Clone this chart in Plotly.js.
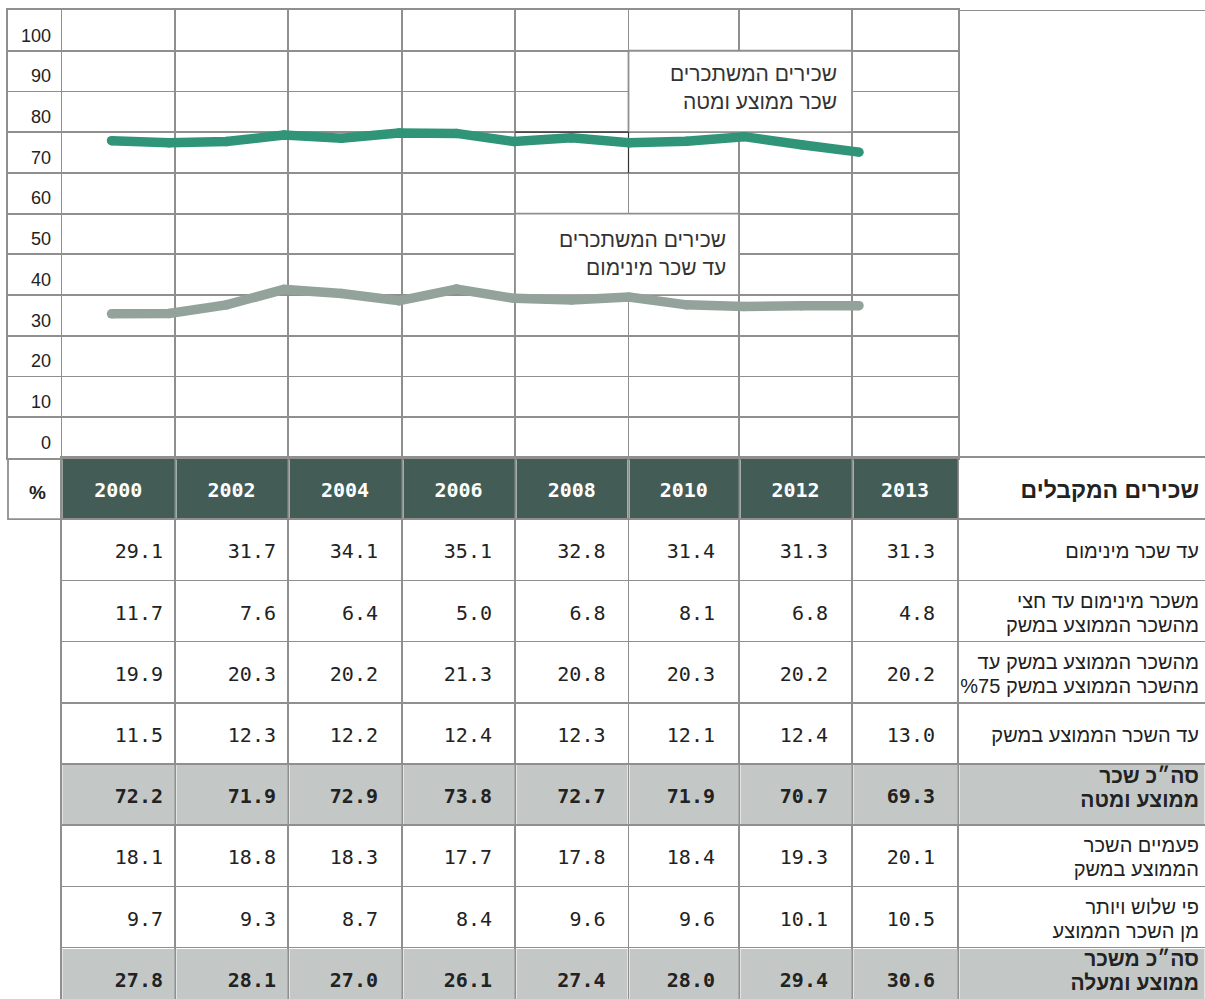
<!DOCTYPE html>
<html><head><meta charset="utf-8">
<script src="https://cdn.plot.ly/plotly-3.0.1.min.js"></script>
<style>html,body{margin:0;padding:0;background:#fff}#chart{width:1205px;height:999px}</style>
</head><body><div id="chart"></div>
<script>
// ---------------- data ----------------
const lineYears = [2000,2001,2002,2003,2004,2005,2006,2007,2008,2009,2010,2011,2012,2013];
const avgAndBelowLine = [77.9,77.4,77.7,79.3,78.5,79.8,79.7,77.7,78.6,77.4,77.8,78.9,76.9,75.1];
const upToMinWageLine = [35.4,35.5,37.6,41.4,40.4,38.6,41.5,39.2,38.8,39.5,37.6,37.2,37.4,37.4];
const yTickValues = [0,10,20,30,40,50,60,70,80,90,100];
const unitLabel = '%';
const tableYears = ['2000','2002','2004','2006','2008','2010','2012','2013'];
const tableTitle = 'שכירים המקבלים';
const greenSeriesLabel = ['שכירים המשתכרים','שכר ממוצע ומטה'];
const graySeriesLabel = ['שכירים המשתכרים','עד שכר מינימום'];

const upToMinWage      = [29.1,31.7,34.1,35.1,32.8,31.4,31.3,31.3];
const minToHalfAvg     = [11.7,7.6,6.4,5.0,6.8,8.1,6.8,4.8];
const halfTo75Avg      = [19.9,20.3,20.2,21.3,20.8,20.3,20.2,20.2];
const pct75ToAvg       = [11.5,12.3,12.2,12.4,12.3,12.1,12.4,13.0];
const totalAvgAndBelow = [72.2,71.9,72.9,73.8,72.7,71.9,70.7,69.3];
const avgToTwiceAvg    = [18.1,18.8,18.3,17.7,17.8,18.4,19.3,20.1];
const threeTimesPlus   = [9.7,9.3,8.7,8.4,9.6,9.6,10.1,10.5];
const totalAboveAvg    = [27.8,28.1,27.0,26.1,27.4,28.0,29.4,30.6];

const rowLabels = [
  'עד שכר מינימום',
  'משכר מינימום עד חצי|מהשכר הממוצע במשק',
  'מהשכר הממוצע במשק עד|%75 מהשכר הממוצע במשק',
  'עד השכר הממוצע במשק',
  'סה״כ שכר|ממוצע ומטה',
  'פעמיים השכר|הממוצע במשק',
  'פי שלוש ויותר|מן השכר הממוצע',
  'סה״כ משכר|ממוצע ומעלה'
];
const rowValues = [upToMinWage,minToHalfAvg,halfTo75Avg,pct75ToAvg,totalAvgAndBelow,avgToTwiceAvg,threeTimesPlus,totalAboveAvg];
const rowIsTotal = [false,false,false,false,true,false,false,true];

// ---------------- layout constants ----------------
const W = 1205, H = 999;
const chartL = 8, chartR = 958, chartT = 10, chartB = 458;
const colEdges = [61.5,175,288,402,515,628.5,739,852,958,1205];
const numPad = [12,12,24,23,23,24,24,23];
const rowPx = 61.2;
const textShift = 3.5 / rowPx;          // optical centering of text inside rows
const GRID = '#8f8f8f', GW = 1.8;
const GREEN = '#2f9478', GRAYLINE = '#93a39c', HEAD = '#435d56', TOTAL = '#c3c8c7', TXT = '#222';
const HEB = 'Liberation Sans, Arial, DejaVu Sans, sans-serif';
const MONO = 'DejaVu Sans Mono, Liberation Mono, monospace';

const yearAt = px => 2000 + (px - 111.5) / 57.5;
const valAt = py => (chartB - py) * 110 / (chartB - chartT);
const y2Bottom = -0.5 + (H - chartB) / rowPx;

// ---------------- traces ----------------
const traces = [];
traces.push({type:'scatter', mode:'lines+markers', x:lineYears, y:upToMinWageLine, xaxis:'x', yaxis:'y',
  line:{color:GRAYLINE, width:9.5}, marker:{color:GRAYLINE, size:9.5}, hoverinfo:'skip', showlegend:false});
traces.push({type:'scatter', mode:'lines+markers', x:lineYears, y:avgAndBelowLine, xaxis:'x', yaxis:'y',
  line:{color:GREEN, width:9.5}, marker:{color:GREEN, size:9.5}, hoverinfo:'skip', showlegend:false});
// carrier for the tick-label axis
traces.push({type:'scatter', mode:'markers', x:[2005], y:[null], xaxis:'x', yaxis:'y3', hoverinfo:'skip', showlegend:false});

// table fills (heatmap cells)
const nCols = colEdges.length - 1;
const z = [];
for (let r = 0; r <= rowLabels.length; r++) {
  const row = [];
  for (let c = 0; c < nCols; c++) {
    if (r === 0) row.push(c < tableYears.length ? 1 : null);
    else row.push(rowIsTotal[r-1] ? 2 : null);
  }
  z.push(row);
}
const yEdges = [];
for (let r = 0; r <= rowLabels.length + 1; r++) yEdges.push(r - 0.5);
traces.push({type:'heatmap', x:colEdges, y:yEdges, z:z, xaxis:'x2', yaxis:'y2', zmin:1, zmax:2,
  colorscale:[[0,HEAD],[0.5,HEAD],[0.5,TOTAL],[1,TOTAL]], showscale:false, xgap:2, ygap:2, hoverinfo:'skip'});

// header years
traces.push({type:'scatter', mode:'text', xaxis:'x2', yaxis:'y2',
  x:tableYears.map((_,i)=>(colEdges[i]+colEdges[i+1])/2), y:tableYears.map(()=>textShift), text:tableYears,
  textposition:'middle center', textfont:{family:MONO, size:20, color:'#fff', weight:'bold'}, hoverinfo:'skip', showlegend:false});

// numbers
['normal','bold'].forEach(w => {
  const xs=[], ys=[], ts=[];
  rowValues.forEach((vals, r) => {
    if ((w === 'bold') !== rowIsTotal[r]) return;
    vals.forEach((v, i) => { xs.push(colEdges[i+1] - numPad[i]); ys.push(r + 1 + textShift); ts.push(v.toFixed(1)); });
  });
  traces.push({type:'scatter', mode:'text', xaxis:'x2', yaxis:'y2', x:xs, y:ys, text:ts, textposition:'middle left',
    textfont:{family:MONO, size:20, color:TXT, weight:w}, hoverinfo:'skip', showlegend:false});
});

// row labels
const labelRight = 1199;
['normal','bold'].forEach(w => {
  const bold = w === 'bold';
  const off = 12 / rowPx;
  const shift = bold ? -5 / rowPx : textShift;
  const xs=[], ys=[], ts=[];
  rowLabels.forEach((lab, r) => {
    if (bold !== rowIsTotal[r]) return;
    const lines = lab.split('|');
    lines.forEach((ln, k) => {
      xs.push(labelRight);
      ys.push(r + 1 + shift + (lines.length === 1 ? 0 : (k === 0 ? -off : off)));
      ts.push(ln);
    });
  });
  traces.push({type:'scatter', mode:'text', xaxis:'x2', yaxis:'y2', x:xs, y:ys, text:ts, textposition:'middle left',
    textfont:{family:HEB, size:bold?21:20, color:TXT, weight:w}, hoverinfo:'skip', showlegend:false});
});
// table title
traces.push({type:'scatter', mode:'text', xaxis:'x2', yaxis:'y2', x:[labelRight], y:[textShift], text:[tableTitle],
  textposition:'middle left', textfont:{family:HEB, size:23, color:TXT, weight:'bold'}, hoverinfo:'skip', showlegend:false});

// ---------------- shapes & annotations ----------------
const shapes = [
  {type:'rect', xref:'x', yref:'y', x0:yearAt(628.5), x1:yearAt(852), y0:80, y1:100, fillcolor:'#fff', line:{color:GRID, width:GW}, layer:'between'},
  {type:'rect', xref:'x', yref:'y', x0:yearAt(515), x1:yearAt(739), y0:40, y1:60, fillcolor:'#fff', line:{color:GRID, width:GW}, layer:'between'},
  {type:'line', xref:'x', yref:'y', x0:yearAt(515), x1:yearAt(628.5), y0:80, y1:80, line:{color:'#333', width:1.2}, layer:'between'},
  {type:'line', xref:'x', yref:'y', x0:yearAt(628.5), x1:yearAt(628.5), y0:70, y1:80, line:{color:'#333', width:1.2}, layer:'between'},
  {type:'line', xref:'paper', yref:'y', x0:chartR/W, x1:1, y0:110, y1:110, line:{color:GRID, width:GW}},
  {type:'line', xref:'paper', yref:'y', x0:chartR/W, x1:1, y0:0, y1:0, line:{color:GRID, width:GW}},
  {type:'rect', xref:'paper', yref:'y2', x0:chartL/W, x1:colEdges[0]/W, y0:-0.5, y1:0.5, line:{color:GRID, width:GW}}
];
const annotations = [];
function boxLabel(lines, rightPx, pys) {
  lines.forEach((t, k) => annotations.push({xref:'x', yref:'y', x:yearAt(rightPx), y:valAt(pys[k]), text:t, showarrow:false,
    xanchor:'right', yanchor:'middle', font:{family:HEB, size:21, color:'#333'}}));
}
boxLabel(greenSeriesLabel, 839, [73, 101]);
boxLabel(graySeriesLabel, 728, [239, 267]);
annotations.push({xref:'paper', yref:'y2', x:48/W, y:textShift, text:unitLabel, showarrow:false, xanchor:'right', yanchor:'middle',
  font:{family:HEB, size:19, color:TXT, weight:'bold'}});

const layout = {
  width:W, height:H, margin:{l:0,r:0,t:0,b:0}, paper_bgcolor:'#fff', plot_bgcolor:'#fff', showlegend:false,
  xaxis:{domain:[chartL/W, chartR/W], range:[yearAt(chartL), yearAt(chartR)], anchor:'y',
    tickvals:colEdges.slice(0,8).map(yearAt), showticklabels:false, ticks:'', showgrid:true, gridcolor:GRID, gridwidth:GW,
    zeroline:false, showline:true, mirror:true, linecolor:GRID, linewidth:GW, fixedrange:true},
  yaxis:{domain:[(H-chartB)/H, (H-chartT)/H], range:[0,110], anchor:'x',
    tickvals:yTickValues.slice(1), showticklabels:false, ticks:'', showgrid:true, gridcolor:GRID, gridwidth:GW,
    zeroline:false, showline:true, mirror:true, linecolor:GRID, linewidth:GW, fixedrange:true},
  yaxis3:{overlaying:'y', anchor:'free', position:51/W, side:'left', range:[0,110],
    tickvals:yTickValues.map(v=>v+3.8), ticktext:yTickValues.map(String), showgrid:false, zeroline:false, showline:false,
    ticks:'', tickfont:{family:HEB, size:18, color:TXT}, fixedrange:true},
  xaxis2:{domain:[colEdges[0]/W, 1], range:[colEdges[0], colEdges[colEdges.length-1]], anchor:'y2', side:'top',
    tickvals:colEdges.slice(1,9), showticklabels:false, ticks:'', showgrid:true, gridcolor:GRID, gridwidth:GW,
    zeroline:false, showline:true, mirror:false, linecolor:GRID, linewidth:GW, fixedrange:true},
  yaxis2:{domain:[0, (H-chartB)/H], range:[y2Bottom, -0.5], anchor:'x2',
    tickvals:[0.5,1.5,2.5,3.5,4.5,5.5,6.5,7.5], showticklabels:false, ticks:'', showgrid:true, gridcolor:GRID, gridwidth:GW,
    zeroline:false, showline:true, mirror:false, linecolor:GRID, linewidth:GW, fixedrange:true},
  shapes:shapes, annotations:annotations
};
Plotly.newPlot('chart', traces, layout, {staticPlot:true, displayModeBar:false});
</script></body></html>
